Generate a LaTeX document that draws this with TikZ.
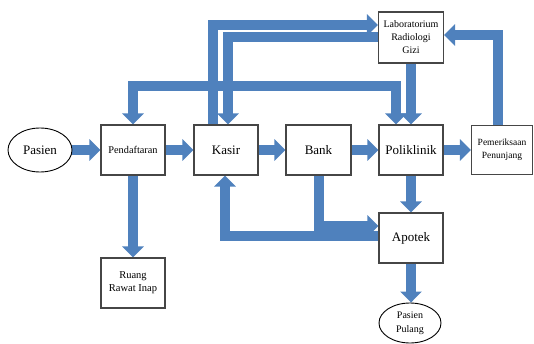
\documentclass[tikz,border=0pt]{standalone}
\usepackage{fontspec}
\setmainfont{Liberation Serif}
\usetikzlibrary{arrows.meta,shapes.geometric,backgrounds}
\definecolor{flow}{RGB}{79,129,189}
\definecolor{edge}{RGB}{70,70,70}
\begin{document}
\begin{tikzpicture}[x=1pt,y=-1pt,
  box/.style={draw=edge,line width=1.1pt,fill=white,rectangle,minimum width=64pt,minimum height=50pt,inner sep=1pt,align=center},
  oval/.style={draw=black,line width=0.9pt,fill=white,ellipse,inner sep=0pt,align=center},
  big/.style={font=\fontsize{13}{15}\selectfont},
  small/.style={font=\fontsize{10}{13}\selectfont},
  arr/.style={draw=flow,line width=10pt,line join=miter,-{Triangle[width=21pt,length=11pt]}}]
\useasboundingbox (0,0) rectangle (534,344);
% nodes
\node[oval,minimum width=64pt,minimum height=44pt,big] (pasien) at (40,150) {Pasien};
\node[box,font=\fontsize{10.3}{13}\selectfont] (pend) at (133,150) {Pendaftaran};
\node[box,big] (kasir) at (226,150) {Kasir};
\node[box,big,minimum width=65pt] (bank) at (318.5,150) {Bank};
\node[box,big] (poli) at (411,150) {Poliklinik};
\node[box,minimum width=61pt,minimum height=49pt,font=\fontsize{9.5}{13}\selectfont] (pem) at (502,150) {Pemeriksaan\\Penunjang};
\node[box,small,minimum width=65pt,minimum height=51pt] (lab) at (411,37.5) {Laboratorium\\Radiologi\\Gizi};
\node[box,font=\fontsize{10.5}{13}\selectfont] (ruang) at (133,283) {Ruang\\Rawat Inap};
\node[box,big] (apotek) at (411,238) {Apotek};
\node[oval,minimum width=62pt,minimum height=40pt,font=\fontsize{10}{14}\selectfont] (pulang) at (410,323) {Pasien\\Pulang};
\coordinate (j) at (282,86);
% connectors
\begin{scope}[on background layer]
\draw[arr] (pasien.east) -- (pend.west);
\draw[arr] (pend.east) -- (kasir.west);
\draw[arr] (kasir.east) -- (bank.west);
\draw[arr] (bank.east) -- (poli.west);
\draw[arr] (poli.east) -- (pem.west);
\draw[arr] (pend.south) -- (ruang.north);
\draw[arr] (poli.south) -- (apotek.north);
\draw[arr] (apotek.south) -- (apotek.south |- pulang.north);
\draw[arr] ([xshift=-4pt]pem.north) |- ([yshift=2.5pt]lab.east);
\draw[arr] ([xshift=-13pt]kasir.north) |- ([yshift=12.5pt]lab.west);
\draw[arr] (lab.west) -| ([xshift=2pt]kasir.north);
\draw[arr] (j) -| (pend.north);
\draw[arr] (j) -| ([xshift=-15pt]poli.north);
\draw[arr] (lab.south) -- (poli.north);
\draw[arr] ([xshift=0.5pt]bank.south) |- ([yshift=12pt]apotek.west);
\draw[arr] ([yshift=2pt]apotek.west) -| ([xshift=-1pt]kasir.south);
\end{scope}
\end{tikzpicture}
\end{document}
